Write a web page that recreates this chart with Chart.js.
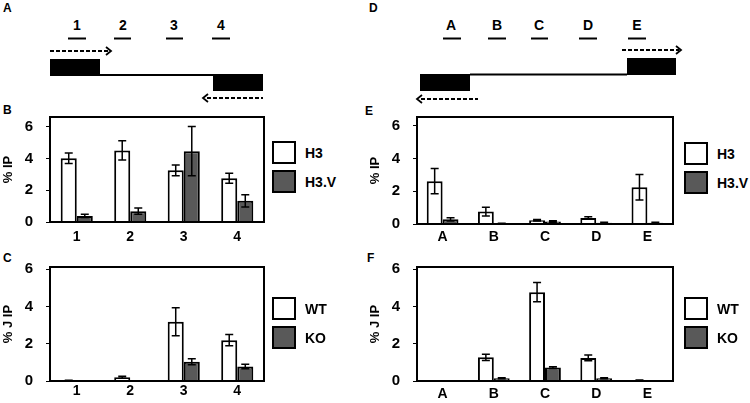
<!DOCTYPE html>
<html>
<head>
<meta charset="utf-8">
<script src="https://cdn.jsdelivr.net/npm/chart.js@4.4.1/dist/chart.umd.min.js"></script>
<style>
body { margin: 0; width: 750px; height: 403px; position: relative; background: #fff; overflow: hidden;
       font-family: "Liberation Sans", Arial, sans-serif; }
canvas { position: absolute; }
svg { position: absolute; left: 0; top: 0; }
.legend { position: absolute; font-weight: bold; font-size: 14px; color: #000; }
.legend .item { display: flex; align-items: center; height: 23px; margin-bottom: 6px; }
.legend .box { width: 20px; height: 19px; border: 2px solid #000; margin-right: 9px; }
</style>
</head>
<body>

<svg width="750" height="403" font-family="Liberation Sans, Arial, sans-serif" font-weight="bold">
  <!-- panel letters -->
  <g font-size="12">
    <text x="3" y="12">A</text>
    <text x="369" y="12">D</text>
    <text x="3" y="114">B</text>
    <text x="365" y="115">E</text>
    <text x="3" y="262">C</text>
    <text x="367" y="262">F</text>
  </g>
  <!-- diagram A -->
  <g font-size="14" text-anchor="middle">
    <text x="77" y="30">1</text><text x="123" y="30">2</text>
    <text x="174" y="30">3</text><text x="221" y="30">4</text>
  </g>
  <g stroke="#000" stroke-width="2">
    <line x1="68" y1="38.5" x2="86" y2="38.5"/><line x1="114" y1="38.5" x2="131" y2="38.5"/>
    <line x1="166" y1="38.5" x2="183" y2="38.5"/><line x1="212" y1="38.5" x2="230" y2="38.5"/>
    <line x1="100" y1="75" x2="213" y2="75"/>
  </g>
  <rect x="50" y="59" width="50" height="17" fill="#000"/>
  <rect x="213" y="74" width="50" height="17" fill="#000"/>
  <g stroke="#000" stroke-width="1.8" fill="none">
    <line x1="50" y1="51" x2="109" y2="51" stroke-dasharray="4 2"/>
    <polyline points="106,47 111,51 106,55"/>
    <line x1="207" y1="98" x2="263" y2="98" stroke-dasharray="4 2"/>
    <polyline points="208,94 203,98 208,102"/>
  </g>
  <!-- diagram D -->
  <g font-size="14" text-anchor="middle">
    <text x="451" y="30">A</text><text x="497" y="30">B</text><text x="539" y="30">C</text>
    <text x="588" y="30">D</text><text x="637" y="30">E</text>
  </g>
  <g stroke="#000" stroke-width="2">
    <line x1="443" y1="38.5" x2="461" y2="38.5"/><line x1="488" y1="38.5" x2="506" y2="38.5"/>
    <line x1="531" y1="38.5" x2="548" y2="38.5"/><line x1="579" y1="38.5" x2="597" y2="38.5"/>
    <line x1="628" y1="38.5" x2="646" y2="38.5"/>
    <line x1="470" y1="74.5" x2="627" y2="74.5"/>
  </g>
  <rect x="627" y="58" width="49" height="17" fill="#000"/>
  <rect x="420" y="74" width="50" height="17" fill="#000"/>
  <g stroke="#000" stroke-width="1.8" fill="none">
    <line x1="622" y1="50" x2="679" y2="50" stroke-dasharray="4 2"/>
    <polyline points="676,46 681,50 676,54"/>
    <line x1="421" y1="99" x2="478" y2="99" stroke-dasharray="4 2"/>
    <polyline points="422,95 417,99 422,103"/>
  </g>
</svg>

<canvas id="chartB" width="266" height="155" style="left:0px;top:95px"></canvas>
<canvas id="chartC" width="266" height="158" style="left:0px;top:245px"></canvas>
<canvas id="chartE" width="308" height="155" style="left:367px;top:95px"></canvas>
<canvas id="chartF" width="308" height="158" style="left:367px;top:245px"></canvas>

<div class="legend" id="legendB" style="left:272px;top:141px"></div>
<div class="legend" id="legendC" style="left:272px;top:297px"></div>
<div class="legend" id="legendE" style="left:684px;top:142px"></div>
<div class="legend" id="legendF" style="left:684px;top:297px"></div>

<script>
// ---- data ----
const sitesNum = ['1', '2', '3', '4'];
const sitesLet = ['A', 'B', 'C', 'D', 'E'];
const yTicks = [0, 2, 4, 6];

// B: % IP, histone H3 vs H3.V
const h3B = [4.0, 4.5, 3.25, 2.75];
const h3BErr = [0.33, 0.6, 0.34, 0.32];
const h3vB = [0.38, 0.68, 4.45, 1.33];
const h3vBErr = [0.1, 0.2, 1.55, 0.38];

// C: % J IP, WT vs KO
const wtC = [0.03, 0.2, 3.18, 2.19];
const wtCErr = [0.01, 0.05, 0.75, 0.3];
const koC = [0.0, 0.02, 1.03, 0.78];
const koCErr = [0, 0, 0.16, 0.12];

// E: % IP, H3 vs H3.V
const h3E = [2.62, 0.76, 0.23, 0.37, 2.25];
const h3EErr = [0.77, 0.27, 0.05, 0.08, 0.78];
const h3vE = [0.29, 0.04, 0.15, 0.08, 0.08];
const h3vEErr = [0.1, 0.01, 0.05, 0.02, 0.02];

// F: % J IP, WT vs KO
const wtF = [0.02, 1.27, 4.77, 1.24, 0.05];
const wtFErr = [0, 0.17, 0.52, 0.15, 0.01];
const koF = [0.0, 0.15, 0.72, 0.15, 0.0];
const koFErr = [0, 0.03, 0.05, 0.03, 0];

const WHITE = '#ffffff';
const GREY = '#595959';
const FONT = "'Liberation Sans', Arial, sans-serif";

// ---- plugins ----
const errorBars = {
    id: 'errorBars',
    afterDatasetsDraw(chart) {
        const ctx = chart.ctx;
        const y = chart.scales.y;
        ctx.save();
        ctx.strokeStyle = '#000';
        ctx.lineWidth = 1.5;
        chart.data.datasets.forEach((ds, i) => {
            chart.getDatasetMeta(i).data.forEach((bar, j) => {
                const e = ds.errors[j];
                if (!e) return;
                const top = y.getPixelForValue(ds.data[j] + e);
                const bot = y.getPixelForValue(ds.data[j] - e);
                ctx.beginPath();
                ctx.moveTo(bar.x, top); ctx.lineTo(bar.x, bot);
                ctx.moveTo(bar.x - 4, top); ctx.lineTo(bar.x + 4, top);
                ctx.moveTo(bar.x - 4, bot); ctx.lineTo(bar.x + 4, bot);
                ctx.stroke();
            });
        });
        ctx.restore();
    }
};

const frame = {
    id: 'frame',
    afterDraw(chart) {
        const a = chart.chartArea;
        const ctx = chart.ctx;
        ctx.save();
        ctx.strokeStyle = '#000';
        ctx.lineWidth = 2;
        ctx.strokeRect(a.left, a.top, a.right - a.left, a.bottom - a.top);
        ctx.restore();
    }
};

// ---- chart builder ----
function makeChart(id, labels, sets, opts) {
    return new Chart(document.getElementById(id), {
        type: 'bar',
        data: {
            labels: labels,
            datasets: sets.map(s => ({
                label: s.label,
                data: s.data,
                errors: s.errors,
                backgroundColor: s.color,
                borderColor: '#000',
                borderWidth: 2,
                categoryPercentage: opts.catPct,
                barPercentage: 1.0
            }))
        },
        options: {
            responsive: false,
            animation: false,
            layout: { padding: { top: opts.padTop, right: 2, left: 0, bottom: 0 } },
            plugins: { legend: { display: false }, tooltip: { enabled: false } },
            scales: {
                x: {
                    grid: { display: false, drawTicks: false },
                    border: { display: true, color: '#000', width: 2 },
                    ticks: { color: '#000', padding: opts.xPad, font: { family: FONT, size: 14, weight: 'bold' } },
                    afterFit: s => { s.height = opts.xHeight; }
                },
                y: {
                    min: 0,
                    max: opts.yMax,
                    afterBuildTicks: s => { s.ticks = yTicks.map(v => ({ value: v })); },
                    grid: { drawOnChartArea: false, drawTicks: true, tickLength: 4, color: '#000', lineWidth: 1 },
                    border: { display: true, color: '#000', width: 2 },
                    ticks: { color: '#000', padding: 13, font: { family: FONT, size: 15, weight: 'bold' } },
                    title: {
                        display: true, text: opts.yTitle, color: '#000',
                        padding: { top: 1, bottom: 0 },
                        font: { family: FONT, size: 13, weight: 'bold' }
                    },
                    afterFit: s => { s.width = 50; }
                }
            }
        },
        plugins: [errorBars, frame]
    });
}

function makeLegend(id, chart) {
    const el = document.getElementById(id);
    chart.data.datasets.forEach(ds => {
        const item = document.createElement('div');
        item.className = 'item';
        item.innerHTML = `<span class="box" style="background:${ds.backgroundColor}"></span>${ds.label}`;
        el.appendChild(item);
    });
}

const chartB = makeChart('chartB', sitesNum, [
    { label: 'H3', data: h3B, errors: h3BErr, color: WHITE },
    { label: 'H3.V', data: h3vB, errors: h3vBErr, color: GREY }
], { yMax: 6.6, padTop: 14, xHeight: 28, xPad: 7, catPct: 0.6, yTitle: '% IP' });

const chartC = makeChart('chartC', sitesNum, [
    { label: 'WT', data: wtC, errors: wtCErr, color: WHITE },
    { label: 'KO', data: koC, errors: koCErr, color: GREY }
], { yMax: 6.12, padTop: 14, xHeight: 21, xPad: 2, catPct: 0.6, yTitle: '% J IP' });

const chartE = makeChart('chartE', sitesLet, [
    { label: 'H3', data: h3E, errors: h3EErr, color: WHITE },
    { label: 'H3.V', data: h3vE, errors: h3vEErr, color: GREY }
], { yMax: 6.55, padTop: 17, xHeight: 26, xPad: 5, catPct: 0.62, yTitle: '% IP' });

const chartF = makeChart('chartF', sitesLet, [
    { label: 'WT', data: wtF, errors: wtFErr, color: WHITE },
    { label: 'KO', data: koF, errors: koFErr, color: GREY }
], { yMax: 6.12, padTop: 15, xHeight: 20, xPad: 5, catPct: 0.62, yTitle: '% J IP' });

makeLegend('legendB', chartB);
makeLegend('legendC', chartC);
makeLegend('legendE', chartE);
makeLegend('legendF', chartF);
</script>
</body>
</html>
